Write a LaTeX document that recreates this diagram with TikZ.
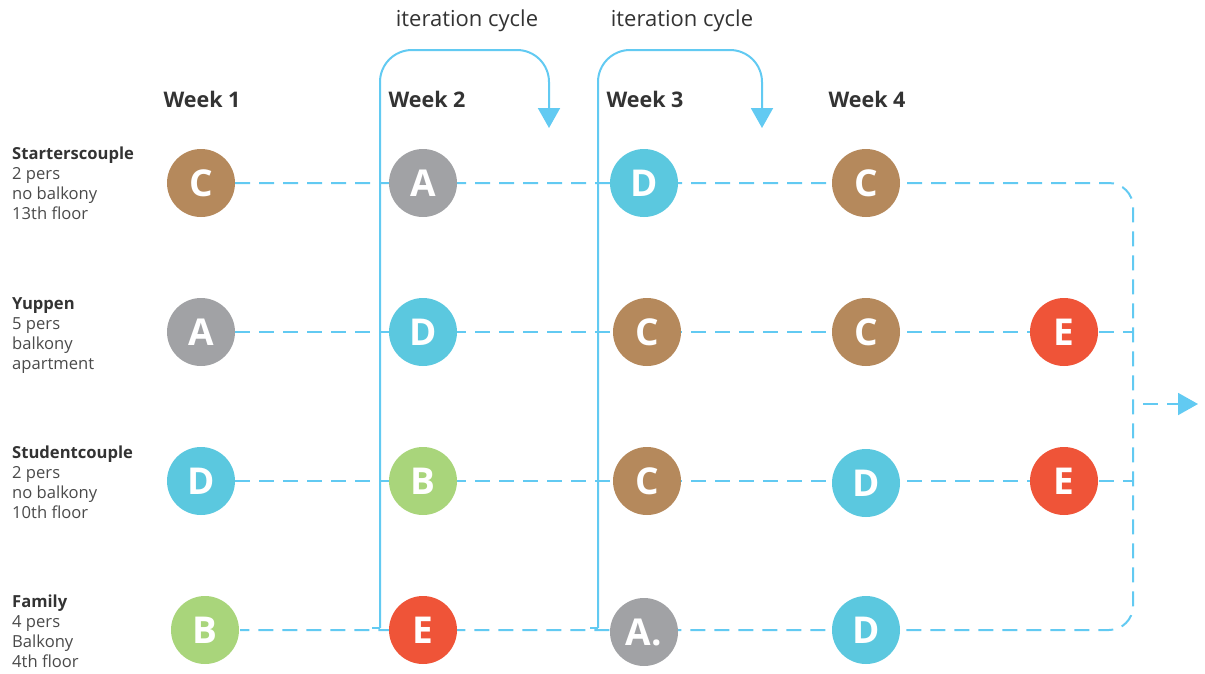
\documentclass[tikz,border=0pt]{standalone}
\usepackage{fontspec}
\setmainfont{Open Sans}
\usetikzlibrary{arrows.meta}
\definecolor{lblue}{HTML}{62CAF2}
\definecolor{cbrown}{HTML}{B5895C}
\definecolor{cgray}{HTML}{A1A2A5}
\definecolor{ccyan}{HTML}{5BC8DF}
\definecolor{cgreen}{HTML}{A9D57B}
\definecolor{cred}{HTML}{EF5438}
\definecolor{txt}{HTML}{333333}
\definecolor{txtl}{HTML}{4A4A4A}
\tikzset{
  dot/.style={circle,minimum size=68pt,inner sep=0pt,text=white,font=\fontsize{37}{37}\selectfont\bfseries},
  brown/.style={dot,fill=cbrown},
  gray/.style={dot,fill=cgray},
  cyan/.style={dot,fill=ccyan},
  green/.style={dot,fill=cgreen},
  red/.style={dot,fill=cred},
  track/.style={lblue,line width=2pt,dash pattern=on 15pt off 9pt},
  cycle/.style={lblue,line width=2pt,rounded corners=32pt,-{Triangle[length=20pt,width=22pt]}},
  week/.style={font=\fontsize{21.5}{21.5}\selectfont\bfseries,text=txt,inner sep=0pt},
  itlabel/.style={font=\fontsize{22}{22}\selectfont,text=txt,inner sep=0pt},
  who/.style={align=left,anchor=north west,inner sep=0pt,text=txtl,font=\fontsize{16.6}{20}\selectfont},
}
\begin{document}
\begin{tikzpicture}[x=1pt,y=-1pt]
\useasboundingbox (0,0) rectangle (1205,673);
% left labels
\node[who] (l1) at (12,147) {\textbf{\color{txt}Starterscouple}\\2 pers\\no balkony\\13th floor};
\node[who] (l2) at (12,297) {\textbf{\color{txt}Yuppen}\\5 pers\\balkony\\apartment};
\node[who] (l3) at (12,446) {\textbf{\color{txt}Studentcouple}\\2 pers\\no balkony\\10th floor};
\node[who] (l4) at (12,595) {\textbf{\color{txt}Family}\\4 pers\\Balkony\\4th floor};
% week labels
\node[week] (w1) at (202,99) {Week 1};
\node[week] (w2) at (427,99) {Week 2};
\node[week] (w3) at (645,99) {Week 3};
\node[week] (w4) at (867,99) {Week 4};
\node[itlabel] (it1) at (467,21) {iteration cycle};
\node[itlabel] (it2) at (682,21) {iteration cycle};
% coordinates for track ends
\coordinate (rt) at (1133,183);
\coordinate (rb) at (1133,630);
\coordinate (e2) at (1133,332);
\coordinate (e3) at (1133,481);
\coordinate (a0) at (1143,404);
\coordinate (a1) at (1198,404);
% circles (positions)
\coordinate (p11) at (201,183); \coordinate (p21) at (201,332);
\coordinate (p31) at (201,481); \coordinate (p41) at (205,630);
% tracks
\draw[track,rounded corners=24pt] (235,183) -- (rt) -- (rb) -- (240,630);
\draw[track] (235,332) -- (e2);
\draw[track] (235,481) -- (e3);
\draw[track,-{Triangle[length=20pt,width=22pt]}] (a0) -- (a1);
% iteration cycles
\coordinate (c1b) at (380,628); \coordinate (c1t) at (380,50);
\coordinate (c1r) at (549,50); \coordinate (c1e) at (549,128);
\coordinate (c2b) at (598,628); \coordinate (c2t) at (598,50);
\coordinate (c2r) at (762,50); \coordinate (c2e) at (762,128);
\draw[cycle] (c1b) -- (c1t) -- (c1r) -- (c1e);
\draw[cycle] (c2b) -- (c2t) -- (c2r) -- (c2e);
\draw[lblue,line width=2pt] (372,628) -- (c1b);
\draw[lblue,line width=2pt] (590,628) -- (c2b);
% nodes
\node[brown] (n11) at (p11) {C};
\node[gray]  (n21) at (p21) {A};
\node[cyan]  (n31) at (p31) {D};
\node[green] (n41) at (p41) {B};
\node[gray]  (n12) at (423,183) {A};
\node[cyan]  (n22) at (423,332) {D};
\node[green] (n32) at (423,481) {B};
\node[red]   (n42) at (423,630) {E};
\node[cyan]  (n13) at (644,183) {D};
\node[brown] (n23) at (647,332) {C};
\node[brown] (n33) at (647,481) {C};
\node[gray]  (n43) at (644,632) {A.};
\node[brown] (n14) at (866,183) {C};
\node[brown] (n24) at (866,332) {C};
\node[cyan]  (n34) at (866,483) {D};
\node[cyan]  (n44) at (866,630) {D};
\node[red]   (n25) at (1064,332) {E};
\node[red]   (n35) at (1064,481) {E};
\end{tikzpicture}
\end{document}
